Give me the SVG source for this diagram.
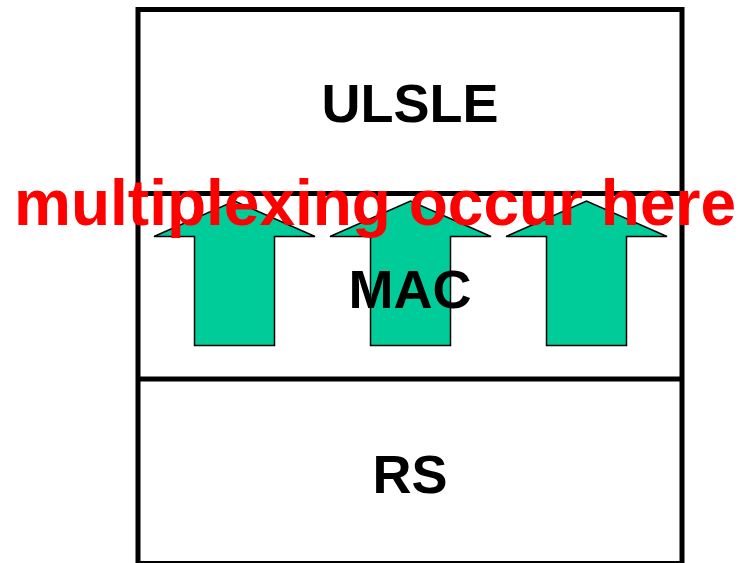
<svg xmlns="http://www.w3.org/2000/svg" width="742" height="563" viewBox="0 0 742 563">
<style>
.box{fill:#fff;stroke:#000;stroke-width:5}
.sep{stroke:#000;stroke-width:5}
.arrow{fill:#00CC99;stroke:#000;stroke-width:1.5;stroke-linejoin:miter}
.lbl{font-family:"Liberation Sans",Arial,sans-serif;font-weight:bold;font-size:54px;fill:#000;text-anchor:middle}
.note{font-family:"Liberation Sans",Arial,sans-serif;font-weight:bold;font-size:64px;fill:#FF0000;text-anchor:middle}
</style>
<rect width="742" height="563" fill="#fff"/>
<g id="stack">
<rect class="box" x="138" y="9.5" width="544" height="554"/>
</g>
<g id="connectors">
<line class="sep" x1="138" y1="193.5" x2="682" y2="193.5"/>
<line class="sep" x1="138" y1="379" x2="682" y2="379"/>
</g>
<g id="arrows">
<polygon class="arrow" points="154,236.5 234.5,201 315,236.5 274.5,236.5 274.5,345.5 194.5,345.5 194.5,236.5"/>
<polygon class="arrow" points="330,236.5 410.5,201 491,236.5 450.5,236.5 450.5,345.5 370.5,345.5 370.5,236.5"/>
<polygon class="arrow" points="506,236.5 586.5,201 667,236.5 626.5,236.5 626.5,345.5 546.5,345.5 546.5,236.5"/>
</g>
<g id="ulsle"><text class="lbl" x="410" y="122">ULSLE</text></g>
<g id="mac"><text class="lbl" x="410" y="308">MAC</text></g>
<g id="rs"><text class="lbl" x="410" y="492.5">RS</text></g>
<g id="note"><text class="note" x="375" y="225">multiplexing occur here</text></g>
</svg>
